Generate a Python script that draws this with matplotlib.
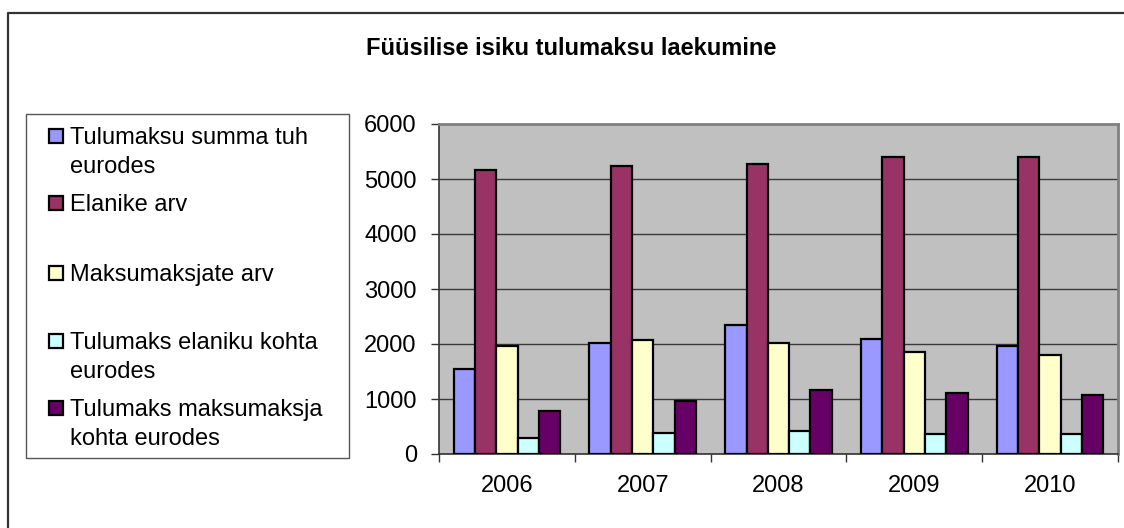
import numpy as np
import matplotlib
matplotlib.use('Agg')
import matplotlib.pyplot as plt
from matplotlib.patches import Rectangle

plt.rcParams['font.family'] = ['Liberation Sans', 'DejaVu Sans']

years = ['2006', '2007', '2008', '2009', '2010']
tulumaksu_summa = [1540, 2015, 2345, 2085, 1970]
elanike_arv = [5160, 5240, 5280, 5400, 5400]
maksumaksjate_arv = [1955, 2075, 2025, 1860, 1800]
tulumaks_elaniku = [290, 385, 425, 370, 365]
tulumaks_maksumaksja = [775, 960, 1155, 1110, 1080]

series = [tulumaksu_summa, elanike_arv, maksumaksjate_arv,
          tulumaks_elaniku, tulumaks_maksumaksja]
colors = ['#9999FF', '#993366', '#FFFFCC', '#CCFFFF', '#660066']
# legend text, one list of lines per entry
legend_lines = [
    ['Tulumaksu summa tuh', 'eurodes'],
    ['Elanike arv'],
    ['Maksumaksjate arv'],
    ['Tulumaks elaniku kohta', 'eurodes'],
    ['Tulumaks maksumaksja', 'kohta eurodes'],
]

W, H = 1124, 528
fig = plt.figure(figsize=(W / 100, H / 100), dpi=100)

# overlay in pixel coords for the frame and legend
bg = fig.add_axes([0, 0, 1, 1])
bg.set_xlim(0, W)
bg.set_ylim(H, 0)
bg.axis('off')
bg.plot([7.5, 7.5, W + 5], [H + 5, 13, 13], color='#333333', lw=1.6,
        clip_on=False)
bg.add_patch(Rectangle((25.7, 114.3), 323.6, 344, facecolor='white',
                       edgecolor='#555555', lw=1.0))
marker_y = [136, 203, 273, 341, 408]
for lines, c, my in zip(legend_lines, colors, marker_y):
    bg.add_patch(Rectangle((49, my - 7), 14, 14, facecolor=c,
                           edgecolor='black', lw=1.6))
    for k, line in enumerate(lines):
        bg.text(70, my + 8 + 29 * k, line, fontsize=17, va='baseline',
                ha='left', color='black')
bg.text(571, 55, 'Füüsilise isiku tulumaksu laekumine', fontsize=17,
        fontweight='bold', ha='center', va='baseline')

# main chart
left, right, top, bottom = 439, 1118, 124, 454
ax = fig.add_axes([left / W, 1 - bottom / H, (right - left) / W,
                   (bottom - top) / H])
ax.set_facecolor('#C0C0C0')
x = np.arange(len(years))
w = 1 / 6.37
for i, (vals, c) in enumerate(zip(series, colors)):
    ax.bar(x + (i - 2) * w, vals, width=w, color=c, edgecolor='black',
           linewidth=1.6, zorder=3)

ax.set_xlim(-0.5, len(years) - 0.5)
ax.set_ylim(0, 6000)
ax.set_yticks(np.arange(0, 6001, 1000))
ax.yaxis.grid(True, color='#3a3a3a', lw=1.0, zorder=1)
ax.set_axisbelow(True)
ax.set_xticks(x)
ax.set_xticklabels(years)
ax.set_xticks(np.arange(-0.5, len(years)), minor=True)
ax.tick_params(axis='x', which='major', length=0, pad=15, labelsize=17)
ax.tick_params(axis='x', which='minor', length=6, width=1.0,
               color='#333333')
ax.tick_params(axis='y', length=6, width=1.0, color='#333333', pad=10,
               labelsize=17)
for s in ['top', 'right']:
    ax.spines[s].set_color('#808080')
    ax.spines[s].set_linewidth(2)
for s in ['left', 'bottom']:
    ax.spines[s].set_color('#333333')
    ax.spines[s].set_linewidth(1.2)

fig.savefig('out.png', dpi=100)
